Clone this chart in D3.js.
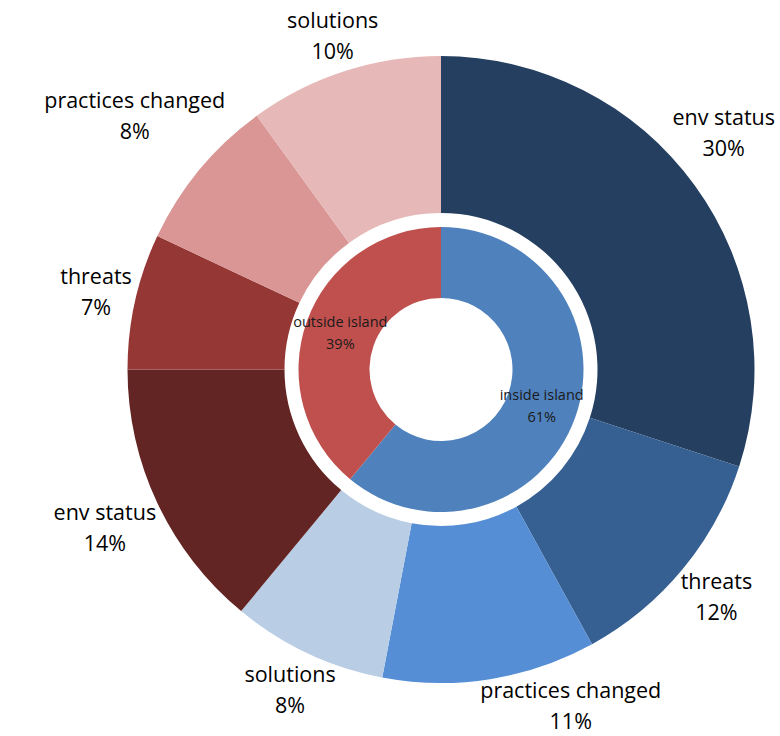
<!DOCTYPE html>
<html>
<head>
<meta charset="utf-8">
<script src="https://cdn.jsdelivr.net/npm/d3@7"></script>
<style>
  body { margin: 0; background: #fff; }
  text { font-family: "Open Sans", Lato, sans-serif; }
</style>
</head>
<body>
<script>
// buitenste ring: onderwerpen per groep
var outerCats = ["env status", "threats", "practices changed", "solutions",
                 "env status", "threats", "practices changed", "solutions"];
var outerValues = [30, 12, 11, 8, 14, 7, 8, 10];
var outerColors = ["#253f60", "#376092", "#558ed5", "#b9cde5",
                   "#632523", "#953735", "#d99694", "#e6b9b8"];

// binnenste ring: groepen
var innerCats = ["inside island", "outside island"];
var innerValues = [61, 39];
var innerColors = ["#4f81bd", "#c0504d"];

var breedte = 780, hoogte = 736;
var cx = 441, cy = 369.5;
var rHole = 71.5, rInnerOut = 142.5, rOuterIn = 156.5, rOuterOut = 313.5;

var svg = d3.select("body").append("svg")
  .attr("width", breedte)
  .attr("height", hoogte);

var g = svg.append("g").attr("transform", "translate(" + cx + "," + cy + ")");

var pie = d3.pie().sort(null).value(function(d) { return d; });

var outerArcs = pie(outerValues);
var innerArcs = pie(innerValues);

var arcOuter = d3.arc().innerRadius(rOuterIn).outerRadius(rOuterOut);
var arcInner = d3.arc().innerRadius(rHole).outerRadius(rInnerOut);

g.selectAll("path.outer")
  .data(outerArcs)
  .enter().append("path")
  .attr("class", "outer")
  .attr("d", arcOuter)
  .attr("fill", function(d, i) { return outerColors[i]; });

g.selectAll("path.inner")
  .data(innerArcs)
  .enter().append("path")
  .attr("class", "inner")
  .attr("d", arcInner)
  .attr("fill", function(d, i) { return innerColors[i]; });

// labels binnenste ring op het midden van de ring
innerArcs.forEach(function(d, i) {
  var c = arcInner.centroid(d);
  var t = g.append("text")
    .attr("text-anchor", "middle")
    .attr("font-size", "14.5px")
    .attr("fill", "#1a1a1a");
  t.append("tspan").attr("x", c[0]).attr("y", c[1] - 11).attr("dy", "0.35em").text(innerCats[i]);
  t.append("tspan").attr("x", c[0]).attr("y", c[1] + 11).attr("dy", "0.35em").text(innerValues[i] + "%");
});

// labels buitenste ring net buiten de ring
var fs = 21.5, lineH = 31, pad = 0;
var boxH = lineH + fs * 0.9;

function afstand(x, y, w, h) {
  var px = Math.max(x - w / 2, Math.min(0, x + w / 2));
  var py = Math.max(y - h / 2, Math.min(0, y + h / 2));
  return Math.sqrt(px * px + py * py);
}

outerArcs.forEach(function(d, i) {
  var a = (d.startAngle + d.endAngle) / 2;
  var t = g.append("text")
    .attr("text-anchor", "middle")
    .attr("font-size", fs + "px")
    .attr("fill", "#000");
  var l1 = t.append("tspan").attr("dy", "0.35em").text(outerCats[i]);
  var l2 = t.append("tspan").attr("dy", "0.35em").text(outerValues[i] + "%");
  var w = Math.max(l1.node().getComputedTextLength(), l2.node().getComputedTextLength());

  var r = rOuterOut, x = 0, y = 0;
  for (var s = 0; s < 400; s++) {
    x = (r + s) * Math.sin(a);
    y = -(r + s) * Math.cos(a);
    if (afstand(x, y, w, boxH) >= r + pad) break;
  }
  // binnen het beeld houden
  var m = 5;
  var hor = Math.sin(a) >= 0 ? 1 : -1;
  var ver = Math.cos(a) >= 0 ? -1 : 1;
  if (cy + y + boxH / 2 > hoogte - m) {
    y = hoogte - m - boxH / 2 - cy;
    while (afstand(x, y, w, boxH) < r + pad) x += hor;
  }
  if (cy + y - boxH / 2 < m) {
    y = m + boxH / 2 - cy;
    while (afstand(x, y, w, boxH) < r + pad) x += hor;
  }
  if (cx + x + w / 2 > breedte - m) {
    x = breedte - m - w / 2 - cx;
    while (afstand(x, y, w, boxH) < r + pad) y += ver;
  }
  if (cx + x - w / 2 < m) {
    x = m + w / 2 - cx;
    while (afstand(x, y, w, boxH) < r + pad) y += ver;
  }

  l1.attr("x", x).attr("y", y - lineH / 2);
  l2.attr("x", x).attr("y", y + lineH / 2);
});
</script>
</body>
</html>
